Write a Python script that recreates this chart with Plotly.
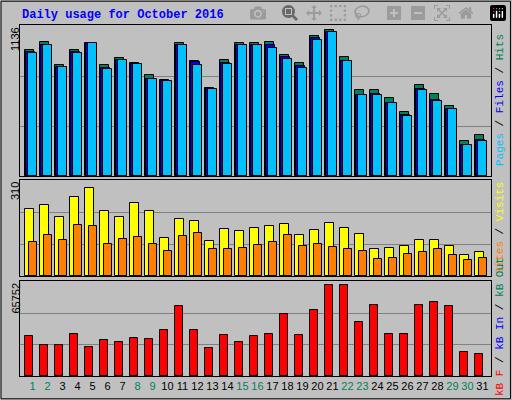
import plotly.graph_objects as go

days = list(range(1, 32))
weekend = [1, 2, 8, 9, 15, 16, 22, 23, 29, 30]

hits = [954, 1022, 840, 954, 1014, 840, 893, 855, 765, 727, 1007, 871, 666, 878, 1007, 1014,
        1022, 916, 855, 1067, 1113, 908, 651, 651, 590, 484, 689, 621, 530, 265, 310]
files = [939, 992, 825, 939, 1007, 818, 878, 848, 734, 719, 999, 863, 659, 855, 992, 999,
         999, 901, 833, 1045, 1098, 871, 613, 621, 553, 462, 659, 575, 507, 235, 273]
pages = [931, 992, 825, 931, 1007, 810, 878, 848, 734, 719, 999, 840, 659, 848, 992, 992,
         969, 886, 818, 1037, 1098, 871, 613, 613, 553, 454, 651, 568, 507, 235, 265]
visits = [219, 232, 194, 257, 288, 213, 194, 238, 213, 125, 185, 178, 113, 153, 147, 157,
          163, 169, 135, 150, 172, 157, 138, 88, 91, 97, 119, 116, 97, 69, 78]
sites = [112, 134, 118, 165, 162, 105, 121, 127, 105, 80, 130, 140, 87, 87, 90, 102,
         112, 134, 99, 105, 96, 87, 80, 55, 58, 71, 77, 87, 68, 52, 58]
kbytes = [28150, 21900, 21900, 29530, 20530, 25380, 23990, 26760, 26070, 32300, 48910, 32300,
          19840, 28840, 23990, 28150, 29530, 43370, 28840, 46140, 63440, 63440, 37830, 49600,
          29530, 29530, 49600, 51680, 48910, 17070, 15690]
max_hits, max_visits, max_kb = 1136, 310, 65752

tick_text = [f'<span style="color:#00805C">{d}</span>' if d in weekend else str(d) for d in days]

fig = go.Figure()
line = dict(color="black", width=1)


def bar(y, color, offset, width, xa, ya):
    fig.add_trace(go.Bar(x=days, y=y, marker=dict(color=color, line=line),
                         offset=offset, width=width, xaxis=xa, yaxis=ya, showlegend=False))


bar(hits, "#00805C", -0.5, 0.6, "x", "y")
bar(files, "#0000FF", -0.4, 0.6, "x", "y")
bar(pages, "#00C0FF", -0.3, 0.6, "x", "y")
bar(visits, "#FFFF00", -0.5, 0.6, "x2", "y2")
bar(sites, "#FF8000", -0.22, 0.55, "x2", "y2")
bar(kbytes, "#FF0000", -0.5, 0.55, "x3", "y3")

xdom = [20 / 512, 491 / 512]
xr = [0.17, 31.57]
common_x = dict(range=xr, domain=xdom, showgrid=False, zeroline=False, showline=True,
                linecolor="black", mirror=True, tickvals=days, ticks="")
fig.update_layout(
    width=512, height=400, margin=dict(l=0, r=0, t=0, b=0),
    paper_bgcolor="#C0C0C0", plot_bgcolor="#C0C0C0", barmode="overlay", bargap=0,
    font=dict(family="Liberation Sans", size=11, color="black"),
    xaxis=dict(common_x, anchor="y", showticklabels=False),
    xaxis2=dict(common_x, anchor="y2", showticklabels=False),
    xaxis3=dict(common_x, anchor="y3", ticktext=tick_text, ticklen=0),
)
for name, dom, mx in [("yaxis", [0.56, 0.9375], max_hits), ("yaxis2", [0.31, 0.55], max_visits),
                      ("yaxis3", [0.06, 0.2975], max_kb)]:
    fig.layout[name] = dict(domain=dom, range=[0, mx * 1.01], tickvals=[mx / 3, mx * 2 / 3],
                            showticklabels=False, showgrid=True, gridcolor="#808080", gridwidth=1,
                            zeroline=False, showline=True, linecolor="black", mirror=True,
                            anchor={"yaxis": "x", "yaxis2": "x2", "yaxis3": "x3"}[name])

fig.add_annotation(text="<b>Daily usage for October 2016</b>", x=20 / 512, y=1 - 15 / 400,
                   xref="paper", yref="paper", xanchor="left", yanchor="middle", showarrow=False,
                   font=dict(family="Liberation Mono", size=12, color="#0000FF"))

for label, ytop in [(str(max_hits), 25), (str(max_visits), 180), (str(max_kb), 281)]:
    fig.add_annotation(text=label, x=15 / 512, y=1 - ytop / 400, xref="paper", yref="paper",
                       xanchor="center", yanchor="top", textangle=-90, showarrow=False,
                       font=dict(size=11))

mono = dict(family="Liberation Mono", size=11)
right_labels = [
    ('<span style="color:#00C0FF">Pages</span> / <span style="color:#0000FF">Files</span>'
     ' / <span style="color:#00805C">Hits</span>', 100),
    ('<span style="color:#FF8000">Sites</span> / <span style="color:#FFFF00">Visits</span>', 228),
    ('<span style="color:#FF0000">kB F</span> / <span style="color:#0000FF">kB In</span>'
     ' / <span style="color:#00805C">kB Out</span>', 327),
]
for text, yc in right_labels:
    fig.add_annotation(text=text, x=500 / 512, y=1 - yc / 400, xref="paper", yref="paper",
                       xanchor="center", yanchor="middle", textangle=-90, showarrow=False,
                       font=mono)

fig.add_shape(type="rect", xref="paper", yref="paper", x0=0.002, y0=0.003, x1=0.997, y1=0.997,
              line=dict(color="black", width=1))

fig.write_html("out.html", post_script="document.body.style.margin='0';")
